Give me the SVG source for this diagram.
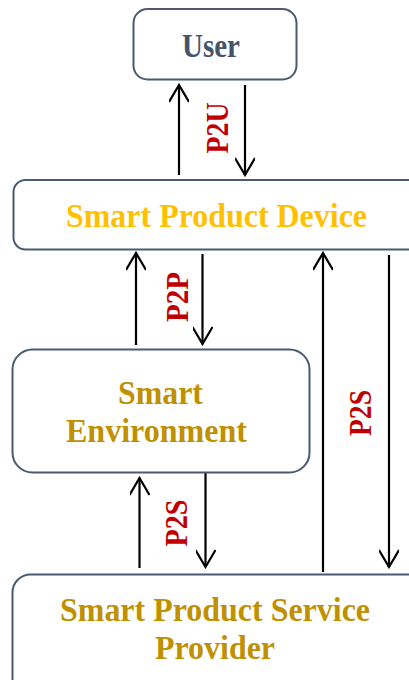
<svg xmlns="http://www.w3.org/2000/svg" width="409" height="680" viewBox="0 0 409 680">
<defs>
<style>
.box{fill:#fff;stroke:#4a5a72;stroke-width:2}
.t{font-family:"Liberation Serif","Times New Roman",serif;font-weight:bold;font-size:34px;text-anchor:middle}
.lbl{font-family:"Liberation Serif","Times New Roman",serif;font-weight:bold;font-size:31px;fill:#c00000;text-anchor:middle}
.c{stroke:#000;stroke-width:2.2;fill:none}
</style>
<marker id="ah" viewBox="0 0 20 20" refX="18" refY="10" markerWidth="20" markerHeight="20" markerUnits="userSpaceOnUse" orient="auto">
<path d="M1,0 L18,10 L1,20" fill="none" stroke="#000" stroke-width="2.2"/>
</marker>
</defs>
<g id="connectors">
<line class="c" x1="179" y1="175" x2="179" y2="85" marker-end="url(#ah)"/>
<line class="c" x1="245" y1="85" x2="245" y2="175" marker-end="url(#ah)"/>
<line class="c" x1="136" y1="345" x2="136" y2="253" marker-end="url(#ah)"/>
<line class="c" x1="202.5" y1="254" x2="202.5" y2="344" marker-end="url(#ah)"/>
<line class="c" x1="323" y1="572" x2="323" y2="253" marker-end="url(#ah)"/>
<line class="c" x1="389" y1="255" x2="389" y2="567" marker-end="url(#ah)"/>
<line class="c" x1="139.5" y1="568" x2="139.5" y2="478" marker-end="url(#ah)"/>
<line class="c" x1="205.5" y1="472" x2="205.5" y2="567" marker-end="url(#ah)"/>
<text class="lbl" transform="translate(228,128) rotate(-90)" textLength="51" lengthAdjust="spacingAndGlyphs">P2U</text>
<text class="lbl" transform="translate(188,297) rotate(-90)" textLength="50" lengthAdjust="spacingAndGlyphs">P2P</text>
<text class="lbl" transform="translate(371,413) rotate(-90)" textLength="46" lengthAdjust="spacingAndGlyphs">P2S</text>
<text class="lbl" transform="translate(187,523) rotate(-90)" textLength="47" lengthAdjust="spacingAndGlyphs">P2S</text>
</g>
<g id="user">
<rect class="box" x="133.5" y="9" width="163" height="70.5" rx="14"/>
<text class="t" x="211" y="57" fill="#44546a" textLength="58" lengthAdjust="spacingAndGlyphs">User</text>
</g>
<g id="smart-product-device">
<rect class="box" x="13.5" y="180" width="420" height="69.5" rx="12"/>
<text class="t" x="216.5" y="227" fill="#ffc000" textLength="301" lengthAdjust="spacingAndGlyphs">Smart Product Device</text>
</g>
<g id="smart-environment">
<rect class="box" x="12.5" y="349.5" width="297" height="123" rx="20"/>
<text class="t" x="160.5" y="404" fill="#bf9000" textLength="85" lengthAdjust="spacingAndGlyphs">Smart</text>
<text class="t" x="156.5" y="441.5" fill="#bf9000" textLength="181" lengthAdjust="spacingAndGlyphs">Environment</text>
</g>
<g id="smart-product-service-provider">
<rect class="box" x="12.5" y="574.5" width="420" height="130" rx="18"/>
<text class="t" x="215" y="620.5" fill="#bf9000" textLength="310" lengthAdjust="spacingAndGlyphs">Smart Product Service</text>
<text class="t" x="215" y="659" fill="#bf9000" textLength="120" lengthAdjust="spacingAndGlyphs">Provider</text>
</g>
</svg>
